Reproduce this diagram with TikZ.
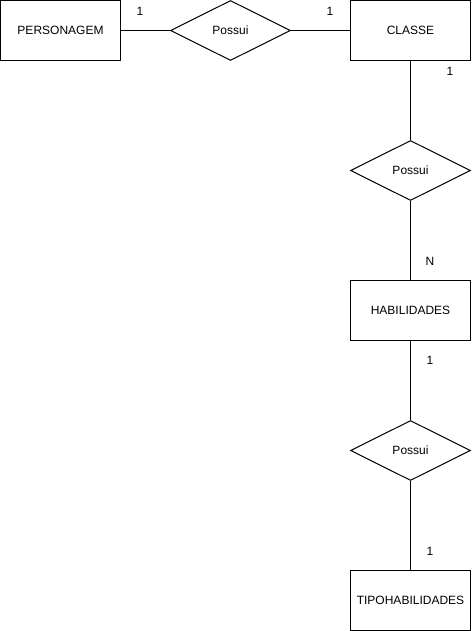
\documentclass[tikz,border=0pt]{standalone}
\usepackage{fontspec}
\setmainfont{Liberation Sans}
\usetikzlibrary{shapes.geometric}
\begin{document}
\begin{tikzpicture}[x=1pt, y=-1pt, line width=1pt, font=\fontsize{12}{14}\selectfont,
  entity/.style={draw, minimum width=120pt, minimum height=60pt, inner sep=0pt},
  relation/.style={draw, diamond, aspect=2, minimum width=120pt, minimum height=60pt, inner sep=0pt},
  card/.style={inner sep=0pt}]
\useasboundingbox (0,0) rectangle (471,631);
\node[entity] (personagem) at (60.5,30.5) {PERSONAGEM};
\node[relation] (r1) at (230.5,30.5) {Possui};
\node[entity] (classe) at (410.5,30.5) {CLASSE};
\node[relation] (r2) at (410.5,170.5) {Possui};
\node[entity] (habilidades) at (410.5,310.5) {HABILIDADES};
\node[relation] (r3) at (410.5,450.5) {Possui};
\node[entity] (tipo) at (410.5,600.5) {TIPOHABILIDADES};
\draw (personagem) -- (r1);
\draw (r1) -- (classe);
\draw (classe) -- (r2);
\draw (r2) -- (habilidades);
\draw (habilidades) -- (r3);
\draw (r3) -- (tipo);
\node[card] (c1) at (140,11) {1};
\node[card] (c2) at (330,11) {1};
\node[card] (c3) at (450,71) {1};
\node[card] (c4) at (430,261) {N};
\node[card] (c5) at (430,360) {1};
\node[card] (c6) at (430,551) {1};
\end{tikzpicture}
\end{document}
